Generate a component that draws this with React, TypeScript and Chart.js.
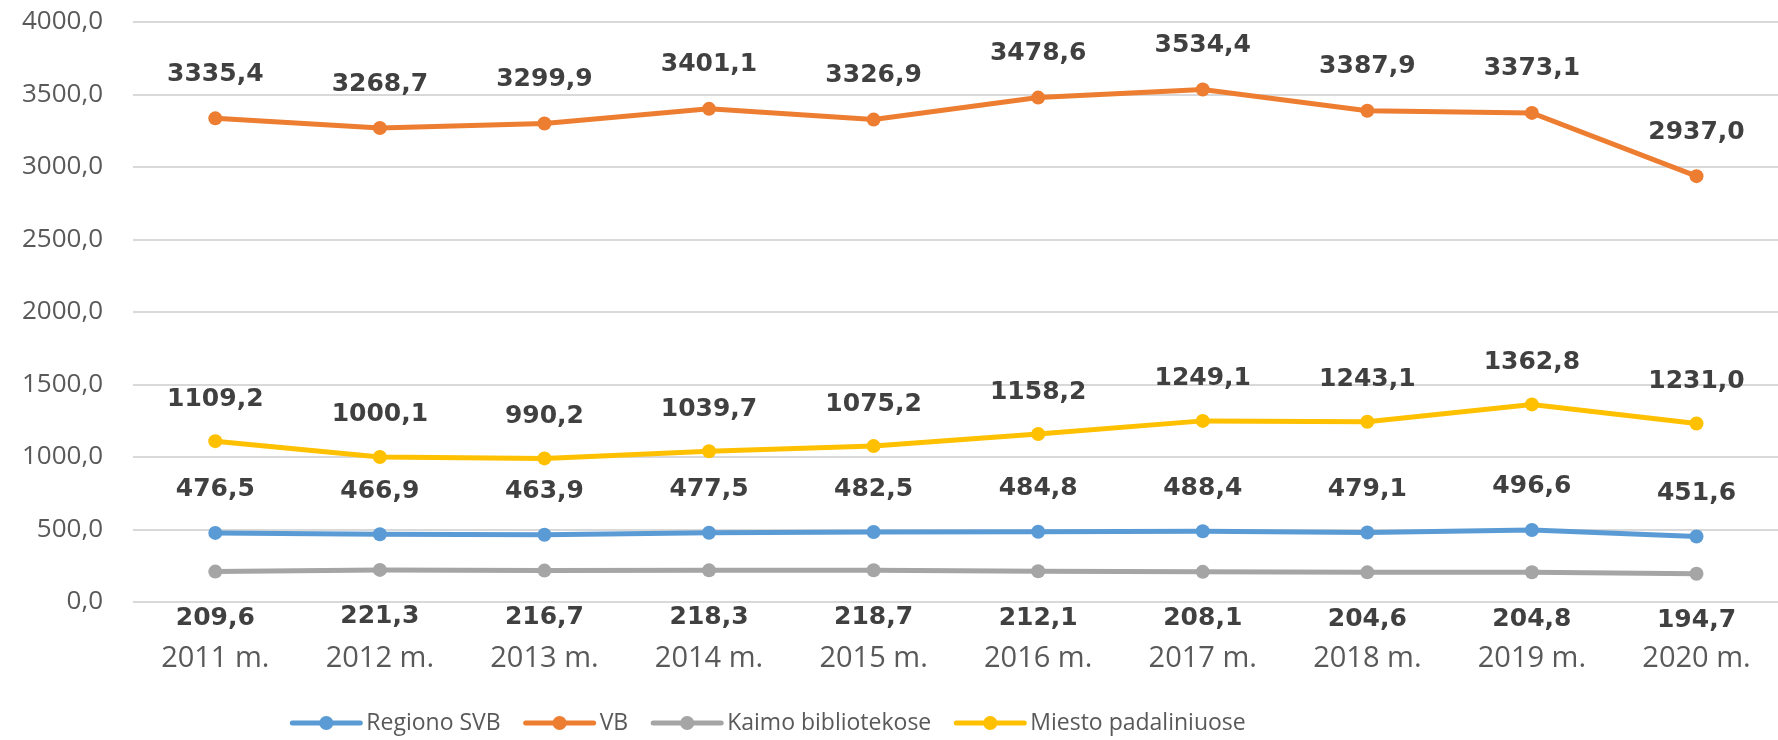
import React, { useEffect, useRef } from "react";
import { Chart, registerables } from "chart.js";

Chart.register(...registerables);

const categories = ["2011 m.", "2012 m.", "2013 m.", "2014 m.", "2015 m.", "2016 m.", "2017 m.", "2018 m.", "2019 m.", "2020 m."];
const regionoSVB = [476.5, 466.9, 463.9, 477.5, 482.5, 484.8, 488.4, 479.1, 496.6, 451.6];
const vb = [3335.4, 3268.7, 3299.9, 3401.1, 3326.9, 3478.6, 3534.4, 3387.9, 3373.1, 2937.0];
const kaimoBibliotekose = [209.6, 221.3, 216.7, 218.3, 218.7, 212.1, 208.1, 204.6, 204.8, 194.7];
const miestoPadaliniuose = [1109.2, 1000.1, 990.2, 1039.7, 1075.2, 1158.2, 1249.1, 1243.1, 1362.8, 1231.0];
const seriesNames = ["Regiono SVB", "VB", "Kaimo bibliotekose", "Miesto padaliniuose"];
const yMin = 0;
const yMax = 4000;
const yStep = 500;

const colors = ["#5B9BD5", "#ED7D31", "#A5A5A5", "#FFC000"];
const labelOffsets = [-43, -44, 47, -42];

const fmt = (v: number) => v.toFixed(1).replace(".", ",");

const dataLabelsPlugin = {
  id: "dataLabelsCustom",
  afterDatasetsDraw(chart: any) {
    const ctx = chart.ctx;
    ctx.save();
    ctx.font = "bold 25px 'DejaVu Sans'";
    ctx.fillStyle = "#404040";
    ctx.textAlign = "center";
    ctx.textBaseline = "middle";
    chart.data.datasets.forEach((ds: any, di: number) => {
      const meta = chart.getDatasetMeta(di);
      meta.data.forEach((pt: any, i: number) => {
        ctx.fillText(fmt(ds.data[i]), pt.x, pt.y + labelOffsets[di]);
      });
    });
    ctx.restore();
  },
};

const legendPlugin = {
  id: "legendCustom",
  afterDraw(chart: any) {
    const ctx = chart.ctx;
    ctx.save();
    ctx.font = "23px 'Open Sans'";
    const lineLen = 68;
    const gapText = 6;
    const gapItem = 25;
    const widths = chart.data.datasets.map((ds: any) => lineLen + gapText + ctx.measureText(ds.label).width);
    const total = widths.reduce((a: number, b: number) => a + b, 0) + gapItem * (widths.length - 1);
    const centerX = 769;
    const y = 723;
    let x = centerX - total / 2;
    chart.data.datasets.forEach((ds: any, i: number) => {
      ctx.strokeStyle = ds.borderColor;
      ctx.lineWidth = 5;
      ctx.lineCap = "round";
      ctx.beginPath();
      ctx.moveTo(x, y);
      ctx.lineTo(x + lineLen, y);
      ctx.stroke();
      ctx.fillStyle = ds.borderColor;
      ctx.beginPath();
      ctx.arc(x + lineLen / 2, y, 7, 0, Math.PI * 2);
      ctx.fill();
      ctx.fillStyle = "#595959";
      ctx.textAlign = "left";
      ctx.textBaseline = "middle";
      ctx.fillText(ds.label, x + lineLen + gapText, y);
      x += widths[i] + gapItem;
    });
    ctx.restore();
  },
};

export default function App() {
  const ref = useRef<HTMLCanvasElement | null>(null);
  useEffect(() => {
    if (!ref.current) return;
    const series = [regionoSVB, vb, kaimoBibliotekose, miestoPadaliniuose];
    const chart = new Chart(ref.current, {
      type: "line",
      data: {
        labels: categories,
        datasets: series.map((d, i) => ({
          label: seriesNames[i],
          data: d,
          borderColor: colors[i],
          backgroundColor: colors[i],
          borderWidth: 5,
          pointRadius: 7,
          pointHoverRadius: 7,
          pointBorderWidth: 0,
          tension: 0,
        })),
      },
      options: {
        responsive: false,
        devicePixelRatio: 1,
        animation: false,
        layout: { padding: { top: 22, right: 6, bottom: 0, left: 0 } },
        plugins: {
          legend: { display: false },
          tooltip: { enabled: false },
        },
        scales: {
          x: {
            offset: true,
            grid: { display: false, drawTicks: false },
            border: { display: false },
            ticks: {
              color: "#595959",
              font: { family: "'Open Sans'", size: 29 },
              padding: 39,
              maxRotation: 0,
              autoSkip: false,
            },
            afterFit(scale: any) {
              scale.height = 138;
            },
          },
          y: {
            min: yMin,
            max: yMax,
            grid: { color: "#D9D9D9", lineWidth: 2, drawTicks: false },
            border: { display: false },
            ticks: {
              stepSize: yStep,
              color: "#595959",
              font: { family: "'Open Sans'", size: 26 },
              padding: 30,
              callback: (v: any) => fmt(Number(v)),
            },
            afterFit(scale: any) {
              scale.width = 133;
              scale.paddingTop = 16;
              scale.paddingBottom = 16;
            },
          },
        },
      },
      plugins: [dataLabelsPlugin, legendPlugin],
    });
    return () => chart.destroy();
  }, []);
  return (
    <div style={{ position: "fixed", left: 0, top: 0, width: 1778, height: 740, overflow: "hidden", background: "#fff" }}>
      <canvas ref={ref} width={1790} height={740} style={{ width: 1790, height: 740, display: "block" }} />
    </div>
  );
}
